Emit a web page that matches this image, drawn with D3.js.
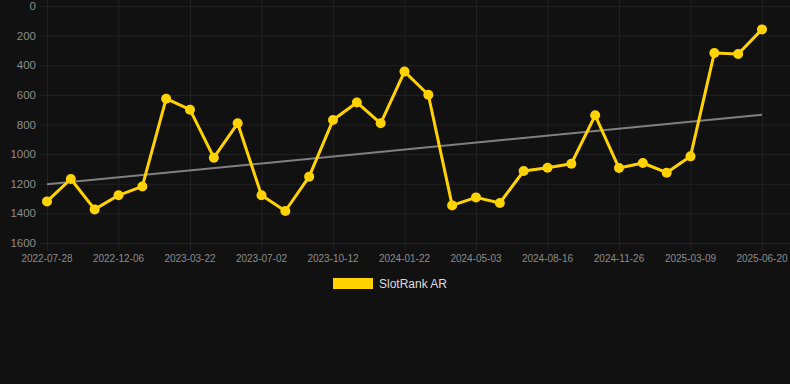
<!DOCTYPE html>
<html>
<head>
<meta charset="utf-8">
<script src="https://cdn.jsdelivr.net/npm/d3@7"></script>
<style>
    html, body { margin: 0; padding: 0; background: #111111; }
    svg { display: block; font-family: "Liberation Sans", Arial, sans-serif; }
</style>
</head>
<body>
<script>
// one point per date; only every third date is labelled on the axis
const dates = [
    '2022-07-28', '2022-09-10', '2022-10-24', '2022-12-06', '2023-01-10', '2023-02-15',
    '2023-03-22', '2023-04-26', '2023-05-28', '2023-07-02', '2023-08-05', '2023-09-08',
    '2023-10-12', '2023-11-15', '2023-12-19', '2024-01-22', '2024-02-25', '2024-03-30',
    '2024-05-03', '2024-06-06', '2024-07-12', '2024-08-16', '2024-09-18', '2024-10-22',
    '2024-11-26', '2024-12-30', '2025-02-02', '2025-03-09', '2025-04-12', '2025-05-16',
    '2025-06-20'
];
const ranks = [
    1319, 1168, 1373, 1278, 1218, 626, 700, 1024, 792, 1278, 1384, 1152, 770, 651, 792,
    443, 599, 1346, 1292, 1330, 1114, 1092, 1065, 738, 1094, 1060, 1125, 1015, 317, 324, 158
];
const trendEnds = [1204, 734];
const yTicks = [0, 200, 400, 600, 800, 1000, 1200, 1400, 1600];
const seriesName = 'SlotRank AR';

const width = 790;
const height = 384;
const yellow = '#ffd200';

const svg = d3.select('body')
    .append('svg')
    .attr('width', width)
    .attr('height', height);

const x = d3.scalePoint().domain(dates).range([47, 762]);
const y = d3.scaleLinear().domain([0, 1600]).range([6, 243]);

const tickDates = dates.filter((d, i) => i % 3 === 0);

// grid
svg.append('g')
    .selectAll('line')
    .data(yTicks)
    .enter()
    .append('line')
    .attr('x1', 40)
    .attr('x2', width)
    .attr('y1', d => y(d) + 0.5)
    .attr('y2', d => y(d) + 0.5)
    .attr('stroke', '#212121')
    .attr('stroke-width', 1);

svg.append('g')
    .selectAll('line')
    .data(tickDates)
    .enter()
    .append('line')
    .attr('x1', d => x(d) + 0.5)
    .attr('x2', d => x(d) + 0.5)
    .attr('y1', 0)
    .attr('y2', 250)
    .attr('stroke', '#212121')
    .attr('stroke-width', 1);

// y labels
svg.append('g')
    .selectAll('text')
    .data(yTicks)
    .enter()
    .append('text')
    .attr('x', 36)
    .attr('y', d => y(d))
    .attr('dy', '0.35em')
    .attr('text-anchor', 'end')
    .attr('fill', '#8c8c8c')
    .attr('font-size', 11.5)
    .text(d => d);

// x labels
svg.append('g')
    .selectAll('text')
    .data(tickDates)
    .enter()
    .append('text')
    .attr('x', d => x(d))
    .attr('y', 262)
    .attr('text-anchor', 'middle')
    .attr('fill', '#8c8c8c')
    .attr('font-size', 10)
    .text(d => d);

// trend line
svg.append('line')
    .attr('x1', x(dates[0]))
    .attr('x2', x(dates[dates.length - 1]))
    .attr('y1', y(trendEnds[0]))
    .attr('y2', y(trendEnds[1]))
    .attr('stroke', '#808080')
    .attr('stroke-width', 2);

// series
const line = d3.line()
    .x((d, i) => x(dates[i]))
    .y(d => y(d));

svg.append('path')
    .datum(ranks)
    .attr('d', line)
    .attr('fill', 'none')
    .attr('stroke', yellow)
    .attr('stroke-width', 3)
    .attr('stroke-linejoin', 'round');

svg.append('g')
    .selectAll('circle')
    .data(ranks)
    .enter()
    .append('circle')
    .attr('cx', (d, i) => x(dates[i]))
    .attr('cy', d => y(d))
    .attr('r', 5)
    .attr('fill', yellow);

// legend
const legend = svg.append('g').attr('transform', 'translate(333, 278)');
legend.append('rect')
    .attr('width', 40)
    .attr('height', 11)
    .attr('fill', yellow);
legend.append('text')
    .attr('x', 46)
    .attr('y', 10)
    .attr('fill', '#dddddd')
    .attr('font-size', 12)
    .text(seriesName);
</script>
</body>
</html>
